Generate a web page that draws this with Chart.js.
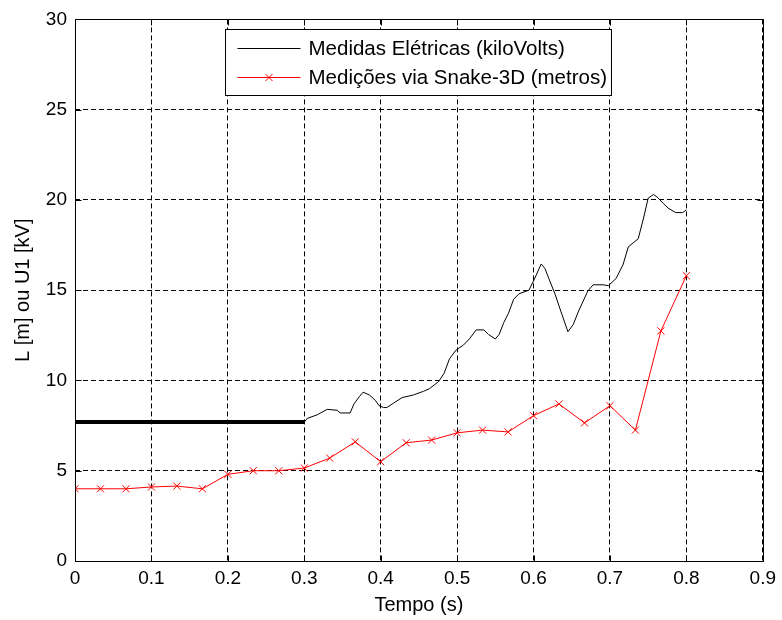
<!DOCTYPE html>
<html>
<head>
<meta charset="utf-8">
<script src="https://cdn.jsdelivr.net/npm/chart.js@4/dist/chart.umd.min.js"></script>
<style>
  html, body { margin: 0; padding: 0; background: #ffffff; }
  #wrap { width: 782px; height: 620px; }
</style>
</head>
<body>
<div id="wrap"><canvas id="c" width="782" height="620"></canvas></div>
<script>
// Axis tick values and labels
const xTickValues = [0, 0.1, 0.2, 0.3, 0.4, 0.5, 0.6, 0.7, 0.8, 0.9];
const xTickLabels = ['0', '0.1', '0.2', '0.3', '0.4', '0.5', '0.6', '0.7', '0.8', '0.9'];
const yTickValues = [0, 5, 10, 15, 20, 25, 30];
const yTickLabels = ['0', '5', '10', '15', '20', '25', '30'];

// Electrical measurements (kV) — constant level until 0.3 s, then measured trace
const elecTime = [0, 0.3, 0.304, 0.317, 0.330, 0.343, 0.347, 0.360, 0.365, 0.372, 0.377, 0.385,
  0.393, 0.398, 0.404, 0.408, 0.417, 0.428, 0.443, 0.456, 0.464, 0.476, 0.483, 0.490, 0.499,
  0.508, 0.516, 0.525, 0.535, 0.541, 0.550, 0.555, 0.561, 0.567, 0.574, 0.581, 0.594, 0.601,
  0.610, 0.615, 0.620, 0.628, 0.636, 0.645, 0.652, 0.659, 0.671, 0.678, 0.691, 0.698, 0.708,
  0.717, 0.724, 0.737, 0.744, 0.750, 0.757, 0.762, 0.770, 0.776, 0.786, 0.795, 0.800];
const elecKV = [7.7, 7.7, 7.9, 8.1, 8.4, 8.35, 8.2, 8.2, 8.7, 9.1, 9.35, 9.2,
  8.9, 8.6, 8.5, 8.5, 8.75, 9.05, 9.2, 9.4, 9.55, 9.95, 10.4, 11.2, 11.7,
  11.95, 12.3, 12.8, 12.8, 12.55, 12.3, 12.55, 13.2, 13.7, 14.5, 14.8, 15.0, 15.6,
  16.45, 16.2, 15.65, 14.8, 13.8, 12.7, 13.1, 13.85, 14.95, 15.3, 15.3, 15.25, 15.65,
  16.4, 17.4, 17.85, 19.0, 20.1, 20.3, 20.15, 19.8, 19.55, 19.3, 19.3, 19.45];

// Snake-3D measurements (m), one sample every 1/30 s
const snakeTime = [0, 0.0333, 0.0667, 0.1, 0.1333, 0.1667, 0.2, 0.2333, 0.2667, 0.3, 0.3333,
  0.3667, 0.4, 0.4333, 0.4667, 0.5, 0.5333, 0.5667, 0.6, 0.6333, 0.6667, 0.7, 0.7333, 0.7667, 0.8];
const snakeLen = [4.0, 4.0, 4.0, 4.1, 4.15, 4.0, 4.8, 5.0, 5.0, 5.15, 5.7,
  6.6, 5.5, 6.55, 6.7, 7.1, 7.25, 7.15, 8.05, 8.7, 7.65, 8.6, 7.25, 12.75, 15.8];

const seriesNames = ['Medidas Elétricas (kiloVolts)', 'Medições via Snake-3D (metros)'];

const FONT = 'Liberation Sans, Arial, Helvetica, sans-serif';

const toPoints = (xs, ys) => xs.map((x, i) => ({ x: x, y: ys[i] }));

// Boxed axes with inward tick marks on all four sides
const boxPlugin = {
  id: 'boxAxes',
  afterDatasetsDraw(chart) {
    const { ctx, chartArea: a, scales } = chart;
    ctx.save();
    ctx.strokeStyle = '#000';
    ctx.lineWidth = 1;
    ctx.setLineDash([]);
    const L = Math.round(a.left) + 0.5, R = Math.round(a.right) + 0.5;
    const T = Math.round(a.top) + 0.5, B = Math.round(a.bottom) + 0.5;
    ctx.beginPath();
    ctx.rect(L, T, R - L, B - T);
    const len = 6;
    xTickValues.forEach(v => {
      const px = Math.round(scales.x.getPixelForValue(v)) + 0.5;
      ctx.moveTo(px, B); ctx.lineTo(px, B - len);
      ctx.moveTo(px, T); ctx.lineTo(px, T + len);
    });
    yTickValues.forEach(v => {
      const py = Math.round(scales.y.getPixelForValue(v)) + 0.5;
      ctx.moveTo(L, py); ctx.lineTo(L + len, py);
      ctx.moveTo(R, py); ctx.lineTo(R - len, py);
    });
    ctx.stroke();
    ctx.restore();
  }
};

// Legend box drawn inside the plot, top centre
const legendPlugin = {
  id: 'insideLegend',
  afterDraw(chart) {
    const { ctx } = chart;
    const box = { x: 225.5, y: 29.5, w: 386, h: 66 };
    ctx.save();
    ctx.fillStyle = '#fff';
    ctx.fillRect(box.x, box.y, box.w, box.h);
    ctx.strokeStyle = '#000';
    ctx.lineWidth = 1;
    ctx.strokeRect(box.x, box.y, box.w, box.h);
    const rows = [box.y + 18.5, box.y + 47.5];
    const x0 = box.x + 12, x1 = box.x + 75, tx = box.x + 83;
    const ds = chart.data.datasets;
    ctx.font = '20.5px ' + FONT;
    ctx.textBaseline = 'middle';
    ctx.fillStyle = '#000';
    rows.forEach((ry, i) => {
      const d = ds[i];
      ctx.strokeStyle = d.borderColor;
      ctx.lineWidth = 1;
      ctx.beginPath();
      ctx.moveTo(x0, Math.round(ry) + 0.5);
      ctx.lineTo(x1, Math.round(ry) + 0.5);
      ctx.stroke();
      if (d.pointStyle === 'crossRot') {
        const cx = (x0 + x1) / 2, cy = Math.round(ry) + 0.5, r = 3.5;
        ctx.beginPath();
        ctx.moveTo(cx - r, cy - r); ctx.lineTo(cx + r, cy + r);
        ctx.moveTo(cx - r, cy + r); ctx.lineTo(cx + r, cy - r);
        ctx.stroke();
      }
      ctx.fillStyle = '#000';
      ctx.fillText(d.label, tx, ry + 1);
    });
    ctx.restore();
  }
};

new Chart(document.getElementById('c'), {
  type: 'scatter',
  data: {
    datasets: [
      {
        label: seriesNames[0],
        data: toPoints(elecTime, elecKV),
        showLine: true,
        borderColor: '#000000',
        backgroundColor: '#000000',
        borderWidth: 1,
        pointRadius: 0,
        segment: {
          borderWidth: ctx => (ctx.p1.parsed.x <= 0.3 ? 4 : 1)
        },
        order: 2
      },
      {
        label: seriesNames[1],
        data: toPoints(snakeTime, snakeLen),
        showLine: true,
        borderColor: '#ff0000',
        backgroundColor: '#ff0000',
        borderWidth: 1,
        pointStyle: 'crossRot',
        pointRadius: 5,
        pointBorderWidth: 1,
        pointBorderColor: '#ff0000',
        order: 1
      }
    ]
  },
  options: {
    responsive: false,
    animation: false,
    events: [],
    layout: { padding: { left: 0, right: 16, top: 18, bottom: 0 } },
    plugins: {
      legend: { display: false },
      tooltip: { enabled: false }
    },
    scales: {
      x: {
        type: 'linear',
        min: 0,
        max: 0.9,
        afterBuildTicks: s => { s.ticks = xTickValues.map(v => ({ value: v })); },
        afterFit: s => { s.height = 59; },
        ticks: {
          callback: (v, i) => xTickLabels[i],
          color: '#000',
          font: { family: FONT, size: 19 },
          padding: 6,
          maxRotation: 0,
          autoSkip: false
        },
        grid: { color: '#000', lineWidth: 1, drawTicks: false },
        border: { display: false, dash: [5, 3] },
        title: {
          display: true,
          text: 'Tempo (s)',
          color: '#000',
          font: { family: FONT, size: 20 },
          padding: { top: 0, bottom: 3 }
        }
      },
      y: {
        type: 'linear',
        min: 0,
        max: 30,
        afterBuildTicks: s => { s.ticks = yTickValues.map(v => ({ value: v })); },
        afterFit: s => { s.width = 75; },
        ticks: {
          callback: (v, i) => yTickLabels[i],
          color: '#000',
          font: { family: FONT, size: 19 },
          padding: 8
        },
        grid: { color: '#000', lineWidth: 1, drawTicks: false },
        border: { display: false, dash: [5, 3] },
        title: {
          display: true,
          text: 'L [m] ou U1 [kV]',
          color: '#000',
          font: { family: FONT, size: 20 },
          padding: { top: 11, bottom: 0 }
        }
      }
    }
  },
  plugins: [boxPlugin, legendPlugin]
});
</script>
</body>
</html>
